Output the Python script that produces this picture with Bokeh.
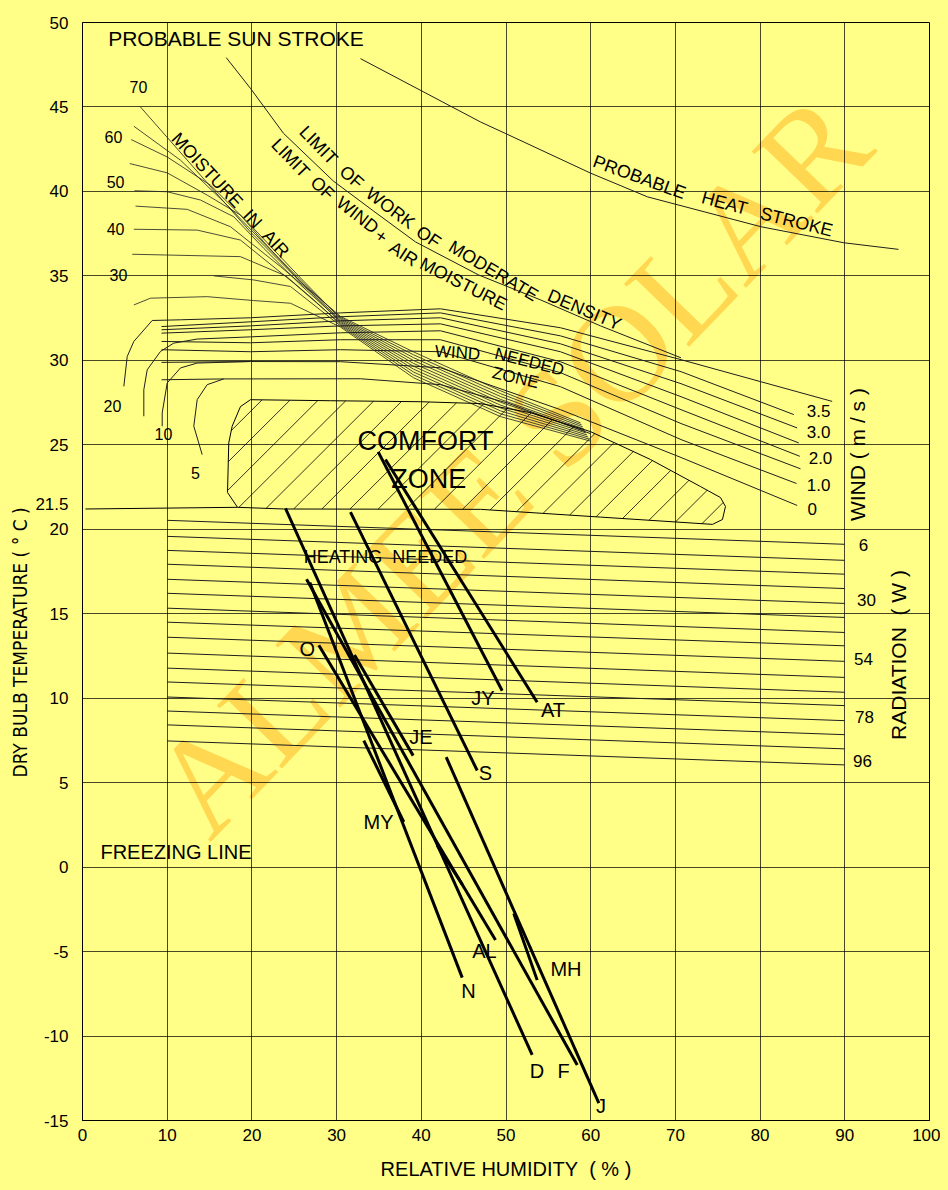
import math
from bokeh.plotting import figure
from bokeh.models import FixedTicker, Title, CustomJSTickFormatter
from bokeh.core.properties import value
from bokeh.embed import file_html
from bokeh.resources import INLINE

# ---------------- data (relative humidity %, dry bulb temperature degC) ----------------
x_ticks = [0, 10, 20, 30, 40, 50, 60, 70, 80, 90, 100]
y_ticks = [-15, -10, -5, 0, 5, 10, 15, 20, 25, 30, 35, 40, 45, 50]
y_extra_tick = 21.5

# monthly lines: (RH at max temp, max temp) -> (RH at min temp, min temp)
months = ["J", "F", "MH", "AL", "MY", "JE", "JY", "AT", "S", "O", "N", "D"]
rh_top = [42.94, 26.45, 50.92, 41.88, 33.21, 32.11, 34.91, 35.77, 31.64, 27.90, 26.84, 23.97]
t_top = [6.51, 17.04, -2.75, 1.29, 7.49, 12.55, 24.58, 24.13, 21.02, 13.14, 16.85, 21.23]
rh_bot = [60.96, 58.41, 53.68, 44.83, 37.93, 39.04, 49.55, 53.68, 46.60, 48.76, 44.83, 53.09]
t_bot = [-13.97, -11.71, -6.69, -1.03, 2.67, 6.60, 10.44, 9.76, 5.72, -4.32, -6.54, -11.12]
month_lbl_x = [61.22, 56.79, 57.08, 47.46, 34.95, 39.96, 47.28, 55.55, 47.58, 26.53, 45.57, 53.66]
month_lbl_y = [-14.12, -12.05, -6.05, -4.96, 2.69, 7.68, 10.01, 9.33, 5.58, 12.91, -7.35, -12.05]

# comfort zone outline
cz_rh = [19.83, 29.28, 39.91, 46.99, 52.89, 59.98, 67.06, 72.96, 75.32, 75.91, 75.56, 74.38,
         61.16, 46.99, 23.73, 18.30, 17.12, 17.27, 17.67, 18.65]
cz_t = [27.67, 27.61, 27.55, 27.44, 26.90, 25.78, 24.13, 22.53, 21.88, 21.35, 20.58, 20.29,
        20.72, 21.18, 21.20, 21.30, 22.18, 25.12, 26.10, 27.26]
comfort_low_rh = [0.35, 18.30]
comfort_low_t = [21.20, 21.30]

# radiation lines (temperature at RH 10 % and RH 90 %)
rad_rh = [10, 90]
rad_t_left = [20.53, 19.58, 18.75, 17.93, 17.04, 16.21, 15.33, 14.50, 13.61, 12.67, 11.78,
              10.96, 10.07, 9.24, 8.42, 7.47]
rad_t_right = [19.11, 18.16, 17.34, 16.49, 15.61, 14.78, 13.89, 13.10, 12.18, 11.23, 10.35,
               9.56, 8.67, 7.84, 7.00, 6.05]

# heat stroke and sun stroke / limit of work lines
hs_rh = [32.82, 47.0, 49.9, 60.0, 66.7, 80.1, 89.9, 96.34]
hs_t = [47.86, 44.11, 43.44, 41.08, 39.68, 37.91, 36.96, 36.57]
lw_rh = [16.97, 19.83, 23.73, 29.63, 34.36, 39.32, 46.75, 54.07, 61.16, 70.66]
lw_t = [47.92, 46.10, 43.44, 40.61, 38.84, 37.01, 35.06, 33.58, 32.04, 30.15]

# moisture-in-air curves (they converge near RH 30 % and run down to the comfort zone)
mc_rh = [
    [6.77, 13.93, 19.83, 25.74, 30.46, 39.08, 49.35, 58.80],
    [6.06, 11.57, 17.08, 22.20, 26.92, 30.46, 39.08, 49.35, 58.93],
    [5.75, 10.00, 15.11, 19.83, 25.74, 30.46, 39.08, 49.35, 59.06],
    [5.58, 10.00, 14.72, 18.65, 21.40, 25.74, 30.46, 39.08, 49.35, 59.19],
    [6.14, 10.00, 13.93, 17.86, 21.40, 25.74, 30.46, 39.08, 49.35, 59.32],
    [6.26, 12.36, 17.47, 23.38, 26.92, 30.46, 39.08, 49.35, 59.45],
    [6.06, 13.54, 18.65, 24.95, 30.46, 39.08, 49.35, 59.58],
    [5.87, 18.65, 24.00, 27.31, 30.46, 39.08, 49.35, 59.71],
    [15.50, 20.22, 24.56, 30.46, 39.08, 49.35, 59.84],
    [6.06, 8.03, 14.72, 20.22, 24.56, 30.46, 39.08, 49.35, 59.97],
]
mc_t = [
    [45.04, 40.96, 37.60, 34.64, 32.60, 30.50, 28.20, 26.30],
    [43.86, 41.85, 39.19, 36.53, 34.17, 32.53, 30.33, 28.03, 26.18],
    [43.07, 42.04, 40.37, 38.01, 34.88, 32.46, 30.16, 27.86, 26.06],
    [41.65, 41.10, 39.78, 38.60, 37.01, 34.64, 32.39, 29.99, 27.69, 25.94],
    [40.04, 39.98, 39.49, 38.50, 36.63, 34.47, 32.32, 29.82, 27.52, 25.82],
    [39.13, 38.94, 37.91, 35.55, 34.05, 32.25, 29.65, 27.35, 25.70],
    [37.76, 37.71, 37.12, 34.57, 32.18, 29.48, 27.18, 25.58],
    [36.28, 36.14, 35.00, 33.58, 32.11, 29.31, 27.01, 25.46],
    [35.00, 34.76, 34.37, 32.04, 29.14, 26.84, 25.34],
    [33.28, 33.68, 33.77, 33.54, 33.38, 31.97, 28.97, 26.67, 25.22],
]

# wind lines (top: 3.5 m/s ... bottom: 0 m/s) and hooked curves
w_rh = [
    [4.88, 5.28, 6.06, 8.23, 11.57, 19.83, 30.46, 42.27, 56.43, 70.66, 80.05, 88.51],
    [9.33, 19.83, 30.46, 42.27, 56.43, 70.66, 83.98],
    [9.33, 19.83, 30.46, 42.27, 56.43, 70.66, 84.38],
    [9.33, 19.83, 30.46, 42.27, 56.43, 70.66, 84.57],
    [7.24, 7.24, 7.64, 9.21, 10.78, 13.54, 19.83, 30.46, 42.27, 56.43, 70.66, 84.69],
    [9.33, 19.83, 30.46, 42.27, 56.43, 70.66, 84.77],
    [9.33, 19.83, 30.46, 42.27, 56.43, 70.66, 84.30],
    [9.41, 9.41, 10.00, 11.57, 13.54, 19.83, 30.46, 42.27, 56.43, 70.66, 84.38],
    [14.13, 13.14, 13.54, 14.72, 16.68, 32.82, 42.27, 50.14, 57.61, 59.98],
    [9.33, 16.68],
    [9.33, 19.83],
]
w_t = [
    [28.46, 30.23, 31.12, 32.36, 32.40, 32.52, 32.81, 33.05, 31.93, 30.04, 28.74, 27.57],
    [32.00, 32.28, 32.58, 32.81, 31.45, 29.33, 26.79],
    [31.81, 32.04, 32.34, 32.52, 30.98, 28.62, 26.00],
    [31.61, 31.81, 32.04, 32.16, 30.51, 27.85, 25.11],
    [26.69, 28.26, 29.44, 30.53, 31.02, 31.26, 31.39, 31.63, 31.75, 29.92, 27.08, 24.32],
    [31.12, 31.04, 31.22, 31.22, 29.27, 26.26, 23.58],
    [30.63, 30.51, 30.63, 30.51, 28.44, 25.31, 22.71],
    [26.10, 26.89, 28.66, 29.55, 29.84, 29.93, 29.92, 29.56, 27.08, 24.25, 21.41],
    [24.42, 26.10, 27.67, 28.56, 28.90, 28.91, 28.56, 27.48, 26.10, 25.66],
    [28.85, 28.90],
    [29.88, 29.93],
]

moist_labels = ["70", "60", "50", "40", "30", "20", "10", "5"]
moist_lbl_x = [6.61, 3.66, 3.90, 3.90, 4.25, 3.54, 9.56, 13.34]
moist_lbl_y = [46.16, 43.21, 40.55, 37.77, 35.06, 27.32, 25.66, 23.36]
wind_labels = ["3.5", "3.0", "2.0", "1.0", "0"]
wind_lbl_x = [86.9, 86.9, 87.13, 86.9, 86.15]
wind_lbl_y = [26.98, 25.74, 24.19, 22.65, 21.22]
rad_labels = ["6", "30", "54", "78", "96"]
rad_lbl_x = [92.21, 92.56, 92.21, 92.33, 92.09]
rad_lbl_y = [19.05, 15.80, 12.32, 8.89, 6.29]

# ---------------- figure ----------------
BG = "#FFFF88"
INK = "#1e1e1e"
FONT = "Liberation Sans"
FRAME_W, FRAME_H = 847, 1101
X0, X1, Y0, Y1 = 0, 100, -15, 50

p = figure(width=940, height=1182, x_range=(X0, X1), y_range=(Y0, Y1),
           output_backend="svg", toolbar_location=None,
           min_border_left=82, min_border_right=11, min_border_top=22, min_border_bottom=59)
p.background_fill_color = BG
p.border_fill_color = BG
p.outline_line_color = "black"
p.outline_line_width = 1

p.xaxis.ticker = FixedTicker(ticks=x_ticks)
p.yaxis.ticker = FixedTicker(ticks=y_ticks + [y_extra_tick])
p.xgrid.ticker = FixedTicker(ticks=x_ticks)
p.ygrid.ticker = FixedTicker(ticks=y_ticks)
p.yaxis.formatter = CustomJSTickFormatter(code="return (tick % 1 !== 0) ? tick.toFixed(1) : tick.toFixed(0);")
p.grid.grid_line_color = "black"
p.grid.grid_line_alpha = 0.72
p.grid.grid_line_width = 1

for ax in (p.xaxis, p.yaxis):
    ax.major_tick_out = 0
    ax.major_tick_in = 0
    ax.minor_tick_out = 0
    ax.minor_tick_in = 0
    ax.axis_line_color = "black"
    ax.major_label_text_font = FONT
    ax.major_label_text_font_size = "17px"
    ax.major_label_text_color = "black"
p.yaxis.major_label_standoff = 14
p.xaxis.major_label_standoff = 8
p.xaxis.axis_label = "RELATIVE HUMIDITY\u00a0\u00a0( % )"
p.xaxis.axis_label_text_font = FONT
p.xaxis.axis_label_text_font_size = "20px"
p.xaxis.axis_label_text_font_style = "normal"
p.xaxis.axis_label_text_color = "black"
p.xaxis.axis_label_standoff = 14

# y axis title, placed lower than the frame centre as in the original
p.add_layout(Title(text="DRY BULB TEMPERATURE ( \u00b0 C )", align="left", offset=343,
                   text_font="DejaVu Sans Condensed", text_font_size="19px",
                   text_font_style="normal", text_color="black", standoff=4), "left")

# watermark (below the grid)
p.text(x=[50.53], y=[23.83], text=["ALMEE SOLAR"], angle=math.radians(46),
       text_font=value("Liberation Serif"), text_font_size=value("138px"),
       text_color="#FFD750", text_align="center", text_baseline="middle", level="image")

# thin curves
p.multi_line(xs=mc_rh, ys=mc_t, line_color="#2a2a2a", line_width=0.85)
p.multi_line(xs=w_rh, ys=w_t, line_color=INK, line_width=1)
p.line(hs_rh, hs_t, line_color=INK, line_width=1)
p.line(lw_rh, lw_t, line_color=INK, line_width=1)


# comfort zone: outline plus 45-degree hatching computed from the outline
def hatch_segments(xs, ys, slope, c_anchor, dc):
    n = len(xs)
    cvals = [yv - slope * xv for xv, yv in zip(xs, ys)]
    k0 = math.floor((min(cvals) - c_anchor) / dc)
    k1 = math.ceil((max(cvals) - c_anchor) / dc)
    hx0, hy0, hx1, hy1 = [], [], [], []
    for k in range(k0, k1 + 1):
        c = c_anchor + k * dc
        cuts = []
        for i in range(n):
            xa, ya = xs[i], ys[i]
            xb, yb = xs[(i + 1) % n], ys[(i + 1) % n]
            fa = ya - slope * xa - c
            fb = yb - slope * xb - c
            if (fa > 0) != (fb > 0):
                t = fa / (fa - fb)
                cuts.append(xa + t * (xb - xa))
        cuts.sort()
        for j in range(0, len(cuts) - 1, 2):
            hx0.append(cuts[j]); hy0.append(slope * cuts[j] + c)
            hx1.append(cuts[j + 1]); hy1.append(slope * cuts[j + 1] + c)
    return hx0, hy0, hx1, hy1


px_per_x = FRAME_W / (X1 - X0)
px_per_y = FRAME_H / (Y1 - Y0)
slope45 = px_per_x / px_per_y            # 45 degrees on screen
spacing_px = 28.2
dc = slope45 * spacing_px / px_per_x
hx0, hy0, hx1, hy1 = hatch_segments(cz_rh, cz_t, slope45, 21.2 - slope45 * 21.6, dc)
p.segment(x0=hx0, y0=hy0, x1=hx1, y1=hy1, line_color="black", line_width=0.8)
p.patch(cz_rh, cz_t, fill_alpha=0, line_color="black", line_width=1)
p.line(comfort_low_rh, comfort_low_t, line_color="black", line_width=1)

# radiation lines
p.segment(x0=[rad_rh[0]] * len(rad_t_left), y0=rad_t_left,
          x1=[rad_rh[1]] * len(rad_t_right), y1=rad_t_right,
          line_color=INK, line_width=1)

# monthly lines
p.segment(x0=rh_top, y0=t_top, x1=rh_bot, y1=t_bot, line_color="black", line_width=3)


def txt(x, y, s, size, angle=0.0, align="center", color="black", font=FONT):
    p.text(x=[x], y=[y], text=[s], angle=math.radians(angle),
           text_font=value(font), text_font_size=value(f"{size}px"),
           text_align=align, text_baseline="middle", text_color=color)


for lab, lx, ly in zip(months, month_lbl_x, month_lbl_y):
    txt(lx, ly, lab, 20)
for lab, lx, ly in zip(moist_labels, moist_lbl_x, moist_lbl_y):
    txt(lx, ly, lab, 16)
for lab, lx, ly in zip(wind_labels, wind_lbl_x, wind_lbl_y):
    txt(lx, ly, lab, 17)
for lab, lx, ly in zip(rad_labels, rad_lbl_x, rad_lbl_y):
    txt(lx, ly, lab, 17)

NB = "\u00a0"
txt(18.12, 49.04, "PROBABLE SUN STROKE", 21)
txt(65.76, 40.84, "PROBABLE", 18, -20)
txt(75.80, 39.31, "HEAT", 18, -15)
txt(84.30, 38.19, "STROKE", 18, -14)

for w, wx, wy, wa in [("LIMIT", 27.86, 42.73, -46), ("OF", 31.76, 40.84, -41),
                      ("WORK", 36.36, 39.01, -37), ("OF", 40.85, 37.30, -34),
                      ("MODERATE", 48.52, 35.29, -31), ("DENSITY", 59.27, 32.99, -23)]:
    txt(wx, wy, w, 18, wa)
for w, wx, wy, wa in [("LIMIT", 24.56, 41.97, -46), ("OF", 28.34, 40.20, -43),
                      ("WIND", 32.47, 38.60, -38), ("+", 35.30, 37.36, -35),
                      ("AIR", 37.90, 36.30, -33), ("MOISTURE", 44.98, 34.52, -27)]:
    txt(wx, wy, w, 18, wa)
txt(17.47, 39.78, "MOISTURE" + NB * 2 + "IN" + NB * 2 + "AIR", 18, -47)
txt(44.27, 30.45, "WIND", 17, -4)
txt(52.77, 29.92, "NEEDED", 17, -14)
txt(51.12, 28.97, "ZONE", 17, -13)
txt(40.50, 25.21, "COMFORT", 27)
txt(40.89, 22.96, "ZONE", 27)
txt(35.77, 18.37, "HEATING" + NB * 2 + "NEEDED", 18)
txt(11.04, 0.92, "FREEZING LINE", 20)
txt(91.46, 24.42, "WIND" + NB + "(" + NB + "m" + NB + "/" + NB + "s" + NB + ")", 21, 90)
txt(96.37, 12.56, "RADIATION" + NB * 2 + "(" + NB + "W" + NB + ")", 21, 90)

html = file_html(p, INLINE)
html = html.replace("<head>", "<head><style>html,body{background:#FFFF88;}</style>", 1)
open("out.html", "w").write(html)
